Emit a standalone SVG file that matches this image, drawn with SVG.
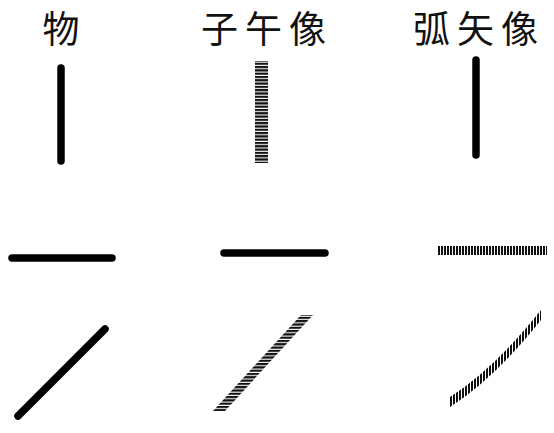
<svg xmlns="http://www.w3.org/2000/svg" width="554" height="433" viewBox="0 0 554 433">
<style>
.title{font-family:"Noto Sans CJK SC","Noto Sans CJK JP",sans-serif;font-size:37px;fill:#111;text-anchor:middle}
.wide{letter-spacing:7px}
.solid{stroke:#000;stroke-width:7.5;stroke-linecap:round;fill:none}
</style>
<defs>
<pattern id="hstripe" patternUnits="userSpaceOnUse" width="10" height="3.3">
<rect x="0" y="0" width="10" height="2.2" fill="#111"/>
</pattern>
<pattern id="vstripe" patternUnits="userSpaceOnUse" width="3" height="10">
<rect x="0" y="0" width="2" height="10" fill="#111"/>
</pattern>
</defs>
<rect width="554" height="433" fill="#fff"/>
<g id="titles">
<text class="title" x="61" y="43">物</text>
<text class="title wide" x="267" y="43">子午像</text>
<text class="title wide" x="479" y="43">弧矢像</text>
</g>
<g id="object">
<line class="solid" x1="61" y1="68" x2="61" y2="161"/>
<line class="solid" x1="12" y1="258" x2="112" y2="258"/>
<line class="solid" x1="18" y1="416" x2="105" y2="329"/>
</g>
<g id="meridional">
<rect x="255" y="61" width="13" height="102" fill="url(#hstripe)"/>
<line class="solid" x1="224" y1="253" x2="325" y2="253"/>
<polygon points="213,411 225,411 313,315 301,315" fill="url(#hstripe)"/>
</g>
<g id="sagittal">
<line class="solid" x1="476" y1="60" x2="476" y2="155"/>
<rect x="438" y="246" width="109" height="9" fill="url(#vstripe)"/>
<path d="M450,397 Q494.5,368.5 541,310 L541,320 Q494.5,378.5 450,407 Z" fill="url(#vstripe)"/>
</g>
</svg>
